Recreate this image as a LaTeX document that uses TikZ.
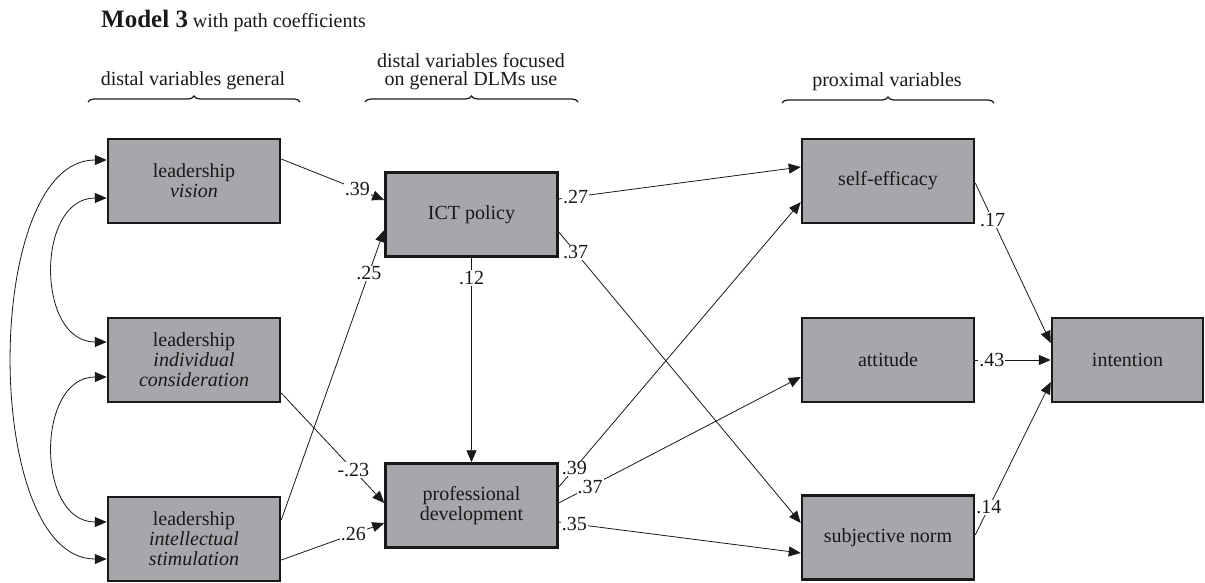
\documentclass[tikz,border=0pt]{standalone}
\usepackage{fontspec}
\setmainfont{Liberation Serif}
\usetikzlibrary{arrows.meta,calc,decorations.pathreplacing}
\definecolor{boxgray}{RGB}{166,167,171}
\definecolor{ink}{RGB}{25,25,25}
\begin{document}
\begin{tikzpicture}[x=1pt,y=-1pt,
  varbox/.style={draw=ink, line width=2.5pt, fill=boxgray, minimum width=172pt, minimum height=84pt, align=center, font=\fontsize{20}{20}\selectfont, inner sep=0pt, text=ink},
  arr/.style={draw=ink, line width=0.8pt, -{Triangle[length=12pt,width=10pt]}},
  corr/.style={draw=ink, line width=0.8pt, {Triangle[length=12pt,width=10pt]}-{Triangle[length=12pt,width=10pt]}},
  coef/.style={fill=white, inner sep=1pt, font=\fontsize{20}{20}\selectfont, text=ink},
  hdr/.style={font=\fontsize{20}{20}\selectfont, text=ink},
  grp/.style={decorate, decoration={brace, amplitude=6pt}, line width=1.2pt, draw=ink}
]
\useasboundingbox (0,0) rectangle (1205,583);

% title
\node[hdr, anchor=base west, inner sep=0pt] (title) at (101,28) {{\fontsize{25}{25}\selectfont\bfseries Model 3} with path coefficients};

% group headers
\node[hdr, anchor=base, inner sep=0pt] (h1) at (193,86) {distal variables general};
\node[hdr, anchor=base, inner sep=0pt] (h2a) at (471,68) {distal variables focused};
\node[hdr, anchor=base, inner sep=0pt] (h2b) at (471,86) {on general DLMs use};
\node[hdr, anchor=base, inner sep=0pt] (h3) at (887,87) {proximal variables};

\coordinate (b1l) at (88,102);
\coordinate (b1r) at (300,102);
\coordinate (b2l) at (365,102);
\coordinate (b2r) at (578,102);
\coordinate (b3l) at (782,103);
\coordinate (b3r) at (994,103);
\draw[grp] (b1l) -- (b1r);
\draw[grp] (b2l) -- (b2r);
\draw[grp] (b3l) -- (b3r);

% boxes
\node[varbox] (vision) at (194,181) {leadership\\\textit{vision}};
\node[varbox] (ict) at (471.5,214.5) {ICT policy};
\node[varbox] (indcons) at (194,360) {leadership\\\textit{individual}\\\textit{consideration}};
\node[varbox] (intstim) at (194,539) {leadership\\\textit{intellectual}\\\textit{stimulation}};
\node[varbox] (profdev) at (471.5,505.5) {professional\\development};
\node[varbox] (selfeff) at (888,181) {self-efficacy};
\node[varbox] (attitude) at (888,360) {attitude};
\node[varbox] (subjnorm) at (888,537.5) {subjective norm};
\node[varbox, minimum width=151pt] (intention) at (1127.5,360) {intention};

% correlations
\draw[corr] ($(vision.west)+(0,-21)$) .. controls +(-125,0) and +(-125,0) .. ($(intstim.west)+(0,20)$);
\draw[corr] ($(vision.west)+(0,17)$) .. controls +(-71,0) and +(-71,0) .. ($(indcons.west)+(0,-18)$);
\draw[corr] ($(indcons.west)+(0,17)$) .. controls +(-71,0) and +(-71,0) .. ($(intstim.west)+(0,-17)$);

% paths into ICT policy / professional development
\draw[arr] ($(vision.east)+(0,-22)$) -- node[coef,pos=0.74]{.39} ($(ict.west)+(0,-14.5)$);
\draw[arr] ($(intstim.east)+(0,-19)$) -- node[coef,pos=0.85]{.25} ($(ict.west)+(0,15.5)$);
\draw[arr] ($(indcons.east)+(0,33)$) -- node[coef,pos=0.70]{-.23} ($(profdev.west)+(0,-2.5)$);
\draw[arr] ($(intstim.east)+(0,21)$) -- node[coef,pos=0.70]{.26} ($(profdev.west)+(0,17.5)$);
\draw[arr] (ict.south) -- node[coef,pos=0.1]{.12} (profdev.north);

% paths into proximal variables
\draw[arr] ($(ict.east)+(0,-15.5)$) -- node[coef,pos=0.07]{.27} ($(selfeff.west)+(0,-14)$);
\draw[arr] ($(ict.east)+(0,17.5)$) -- node[coef,pos=0.07]{.37} ($(subjnorm.west)+(0,-14.5)$);
\draw[arr] ($(profdev.east)+(0,-18.5)$) -- node[coef,pos=0.065]{.39} ($(selfeff.west)+(0,21)$);
\draw[arr] ($(profdev.east)+(0,-2.5)$) -- node[coef,pos=0.13]{.37} ($(attitude.west)+(0,17)$);
\draw[arr] ($(profdev.east)+(0,16.5)$) -- node[coef,pos=0.065]{.35} ($(subjnorm.west)+(0,15.5)$);

% paths into intention
\draw[arr] ($(selfeff.east)+(0,2)$) -- node[coef,pos=0.23]{.17} ($(intention.west)+(0,-17)$);
\draw[arr] (attitude.east) -- node[coef,pos=0.22]{.43} (intention.west);
\draw[arr] ($(subjnorm.east)+(0,-2.5)$) -- node[coef,pos=0.18]{.14} ($(intention.west)+(0,22)$);
\end{tikzpicture}
\end{document}
